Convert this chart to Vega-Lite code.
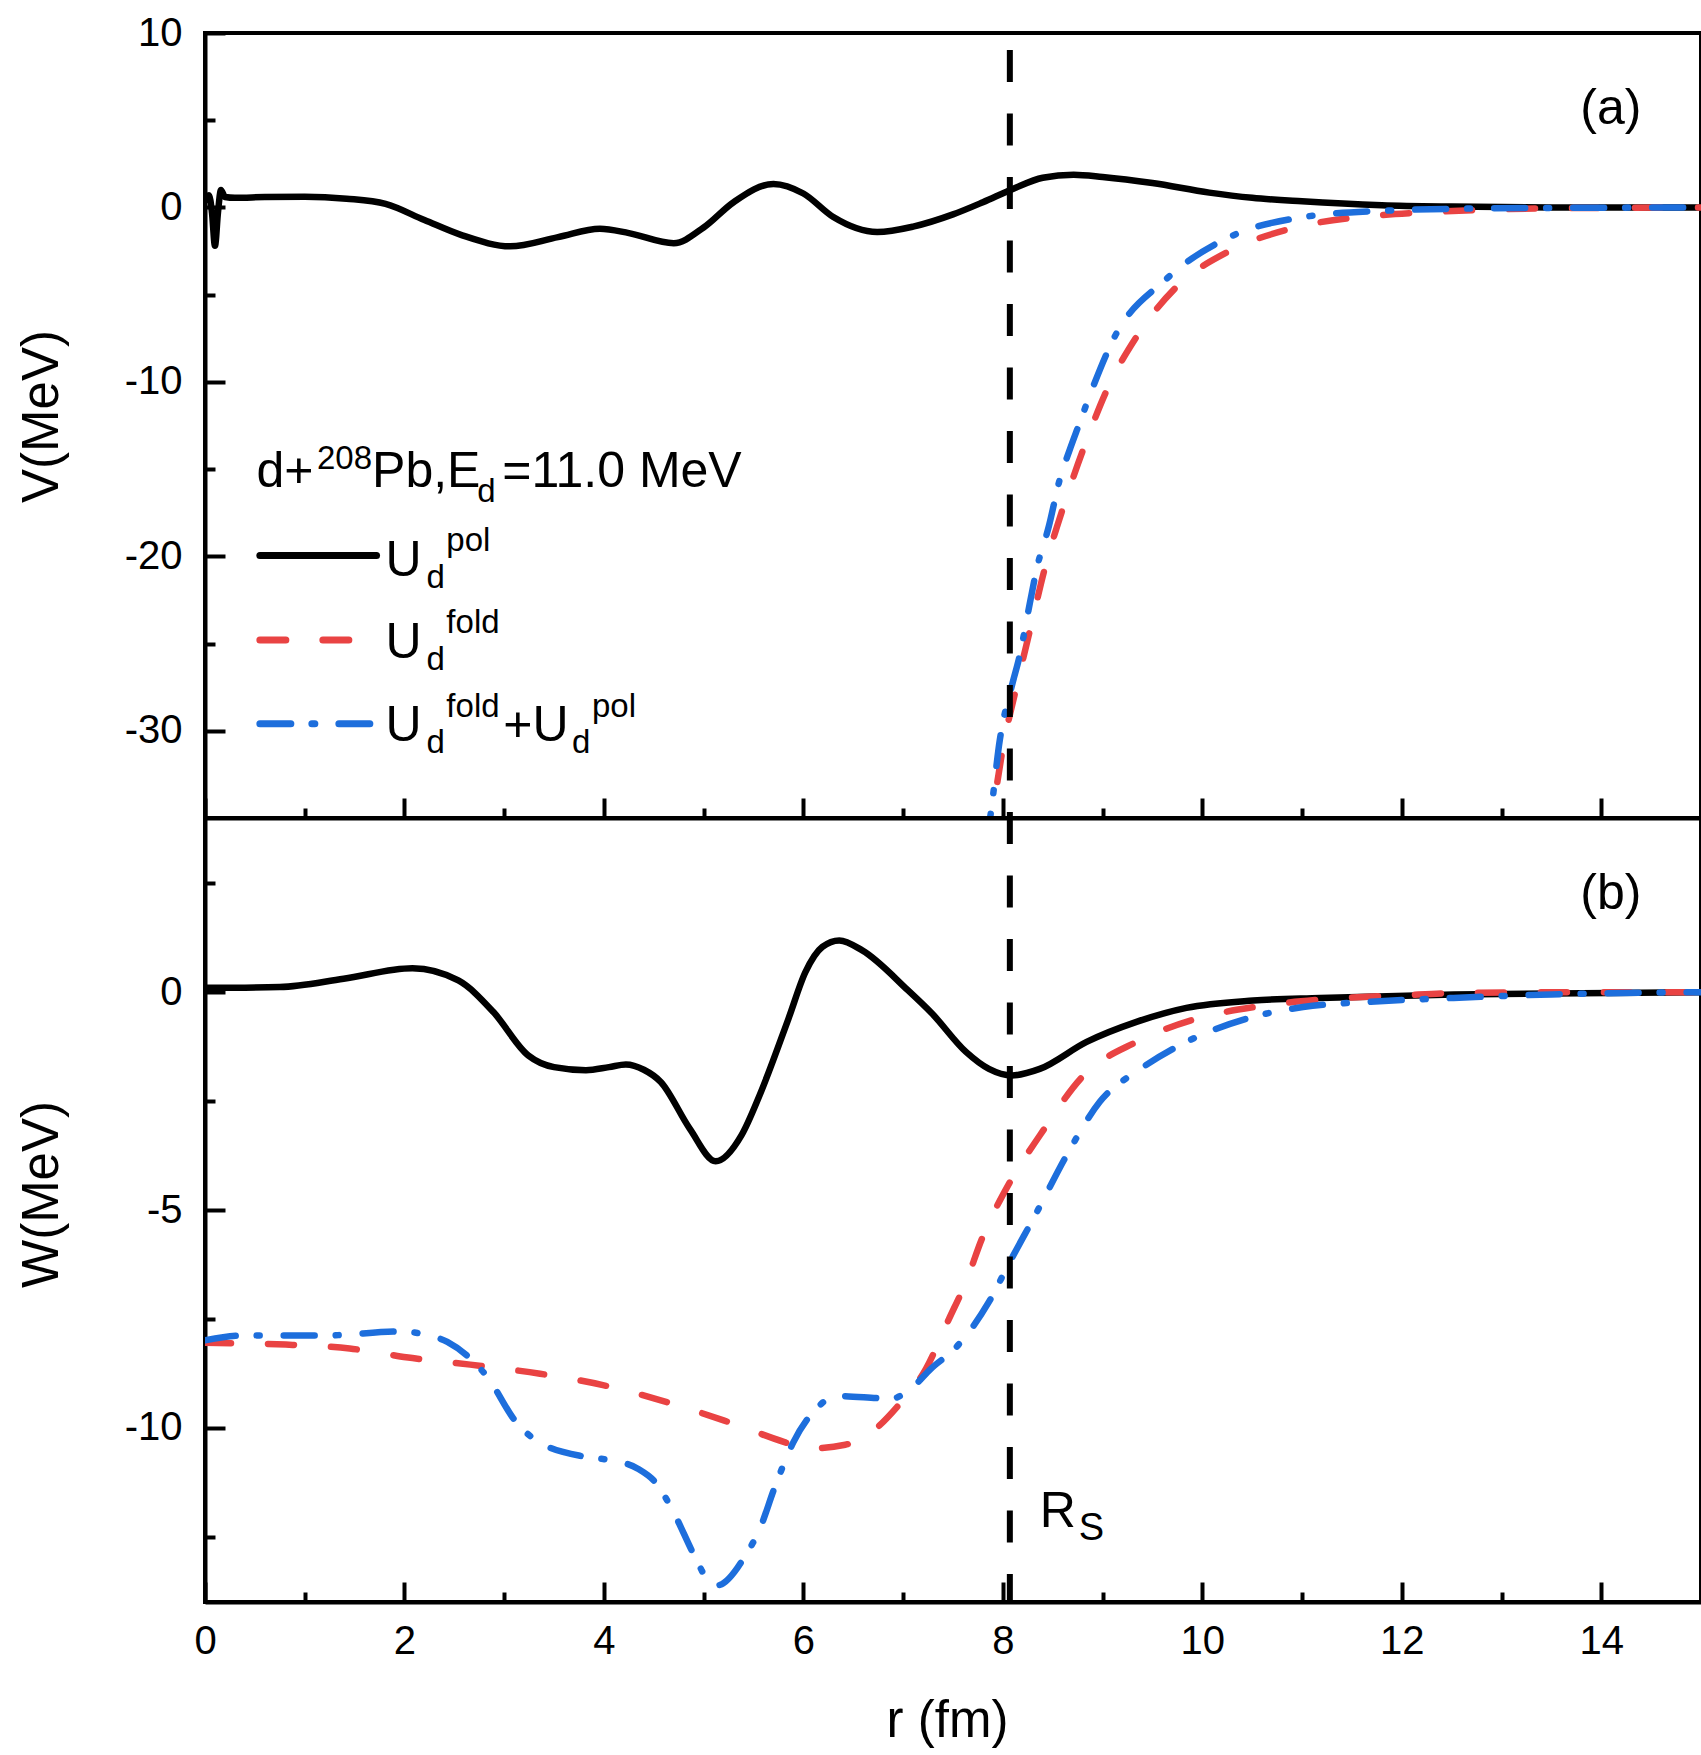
{
  "$schema": "https://vega.github.io/schema/vega-lite/v6.json",
  "description": "Polarization, folding and total potentials for d+208Pb at Ed=11.0 MeV",
  "background": "white",
  "padding": {"left": 14, "top": 11, "right": 0, "bottom": 0},
  "spacing": 0,
  "bounds": "flush",
  "config": {
    "font": "Liberation Sans",
    "view": {"stroke": "black", "strokeWidth": 4},
    "axis": {
      "grid": false,
      "domainColor": "black",
      "domainWidth": 4,
      "tickColor": "black",
      "tickWidth": 4,
      "labelFont": "Liberation Sans",
      "labelFontSize": 40,
      "labelColor": "black",
      "labelOverlap": false,
      "titleFont": "Liberation Sans",
      "titleFontSize": 51,
      "titleFontWeight": "normal",
      "titleColor": "black"
    },
    "text": {"font": "Liberation Sans", "color": "black", "align": "left", "baseline": "alphabetic"}
  },
  "datasets": {
    "V": [
      {"r": 0.0, "v": 0.4, "s": "pol"}, {"r": 0.04, "v": 0.7, "s": "pol"}, {"r": 0.07, "v": -0.3, "s": "pol"},
      {"r": 0.1, "v": -2.2, "s": "pol"}, {"r": 0.13, "v": -0.3, "s": "pol"}, {"r": 0.16, "v": 1.0, "s": "pol"},
      {"r": 0.2, "v": 0.6, "s": "pol"}, {"r": 0.3, "v": 0.55, "s": "pol"}, {"r": 0.6, "v": 0.6, "s": "pol"},
      {"r": 1.0, "v": 0.62, "s": "pol"}, {"r": 1.42, "v": 0.5, "s": "pol"}, {"r": 1.81, "v": 0.2, "s": "pol"},
      {"r": 2.2, "v": -0.72, "s": "pol"}, {"r": 2.58, "v": -1.6, "s": "pol"}, {"r": 3.06, "v": -2.23, "s": "pol"},
      {"r": 3.54, "v": -1.7, "s": "pol"}, {"r": 3.96, "v": -1.22, "s": "pol"}, {"r": 4.25, "v": -1.47, "s": "pol"},
      {"r": 4.7, "v": -2.05, "s": "pol"}, {"r": 5.0, "v": -1.15, "s": "pol"}, {"r": 5.3, "v": 0.3, "s": "pol"},
      {"r": 5.7, "v": 1.35, "s": "pol"}, {"r": 6.0, "v": 0.8, "s": "pol"}, {"r": 6.3, "v": -0.55, "s": "pol"},
      {"r": 6.74, "v": -1.41, "s": "pol"}, {"r": 7.1, "v": -1.1, "s": "pol"}, {"r": 7.5, "v": -0.4, "s": "pol"},
      {"r": 7.8, "v": 0.3, "s": "pol"}, {"r": 8.1, "v": 1.06, "s": "pol"}, {"r": 8.4, "v": 1.7, "s": "pol"},
      {"r": 8.71, "v": 1.88, "s": "pol"}, {"r": 9.0, "v": 1.75, "s": "pol"}, {"r": 9.5, "v": 1.4, "s": "pol"},
      {"r": 10.07, "v": 0.85, "s": "pol"}, {"r": 10.5, "v": 0.55, "s": "pol"}, {"r": 11.0, "v": 0.35, "s": "pol"},
      {"r": 11.8, "v": 0.13, "s": "pol"}, {"r": 12.5, "v": 0.05, "s": "pol"}, {"r": 13.5, "v": 0.0, "s": "pol"},
      {"r": 15.0, "v": 0.0, "s": "pol"},
      {"r": 7.85, "v": -36.5, "s": "fold"}, {"r": 7.89, "v": -35.0, "s": "fold"}, {"r": 8.0, "v": -31.0, "s": "fold"},
      {"r": 8.14, "v": -27.4, "s": "fold"}, {"r": 8.29, "v": -23.8, "s": "fold"}, {"r": 8.42, "v": -20.7, "s": "fold"},
      {"r": 8.61, "v": -17.1, "s": "fold"}, {"r": 8.83, "v": -13.5, "s": "fold"}, {"r": 9.04, "v": -10.5, "s": "fold"},
      {"r": 9.35, "v": -7.33, "s": "fold"}, {"r": 9.74, "v": -4.56, "s": "fold"}, {"r": 10.27, "v": -2.5, "s": "fold"},
      {"r": 10.9, "v": -1.2, "s": "fold"}, {"r": 11.77, "v": -0.45, "s": "fold"}, {"r": 12.35, "v": -0.25, "s": "fold"},
      {"r": 13.5, "v": -0.05, "s": "fold"}, {"r": 15.0, "v": 0.0, "s": "fold"},
      {"r": 7.82, "v": -36.5, "s": "sum"}, {"r": 7.87, "v": -35.05, "s": "sum"}, {"r": 7.97, "v": -30.5, "s": "sum"},
      {"r": 8.1, "v": -27.2, "s": "sum"}, {"r": 8.16, "v": -25.9, "s": "sum"}, {"r": 8.27, "v": -22.7, "s": "sum"},
      {"r": 8.34, "v": -20.7, "s": "sum"}, {"r": 8.46, "v": -18.3, "s": "sum"}, {"r": 8.57, "v": -15.6, "s": "sum"},
      {"r": 8.67, "v": -13.9, "s": "sum"}, {"r": 8.76, "v": -12.5, "s": "sum"}, {"r": 8.91, "v": -10.2, "s": "sum"},
      {"r": 9.11, "v": -7.53, "s": "sum"}, {"r": 9.63, "v": -4.15, "s": "sum"}, {"r": 10.33, "v": -1.55, "s": "sum"},
      {"r": 10.96, "v": -0.6, "s": "sum"}, {"r": 11.77, "v": -0.2, "s": "sum"}, {"r": 12.92, "v": -0.05, "s": "sum"},
      {"r": 15.0, "v": 0.0, "s": "sum"}
    ],
    "W": [
      {"r": 0.0, "v": 0.1, "s": "pol"}, {"r": 0.75, "v": 0.12, "s": "pol"}, {"r": 1.39, "v": 0.31, "s": "pol"},
      {"r": 2.08, "v": 0.55, "s": "pol"}, {"r": 2.54, "v": 0.27, "s": "pol"}, {"r": 2.89, "v": -0.45, "s": "pol"},
      {"r": 3.24, "v": -1.45, "s": "pol"}, {"r": 3.5, "v": -1.72, "s": "pol"}, {"r": 3.82, "v": -1.79, "s": "pol"},
      {"r": 4.05, "v": -1.72, "s": "pol"}, {"r": 4.22, "v": -1.66, "s": "pol"}, {"r": 4.4, "v": -1.78, "s": "pol"},
      {"r": 4.57, "v": -2.06, "s": "pol"}, {"r": 4.86, "v": -3.13, "s": "pol"}, {"r": 5.12, "v": -3.88, "s": "pol"},
      {"r": 5.38, "v": -3.28, "s": "pol"}, {"r": 5.56, "v": -2.37, "s": "pol"}, {"r": 5.85, "v": -0.61, "s": "pol"},
      {"r": 6.02, "v": 0.46, "s": "pol"}, {"r": 6.19, "v": 1.04, "s": "pol"}, {"r": 6.36, "v": 1.19, "s": "pol"},
      {"r": 6.59, "v": 0.96, "s": "pol"}, {"r": 7.05, "v": 0.04, "s": "pol"}, {"r": 7.29, "v": -0.49, "s": "pol"},
      {"r": 7.63, "v": -1.37, "s": "pol"}, {"r": 7.86, "v": -1.76, "s": "pol"}, {"r": 8.09, "v": -1.91, "s": "pol"},
      {"r": 8.37, "v": -1.76, "s": "pol"}, {"r": 8.84, "v": -1.14, "s": "pol"}, {"r": 9.34, "v": -0.68, "s": "pol"},
      {"r": 9.84, "v": -0.36, "s": "pol"}, {"r": 10.51, "v": -0.19, "s": "pol"}, {"r": 11.18, "v": -0.13, "s": "pol"},
      {"r": 12.52, "v": -0.05, "s": "pol"}, {"r": 15.0, "v": 0.0, "s": "pol"},
      {"r": 0.0, "v": -8.05, "s": "fold"}, {"r": 0.81, "v": -8.09, "s": "fold"}, {"r": 1.45, "v": -8.18, "s": "fold"},
      {"r": 2.08, "v": -8.4, "s": "fold"}, {"r": 2.66, "v": -8.55, "s": "fold"}, {"r": 3.36, "v": -8.76, "s": "fold"},
      {"r": 3.99, "v": -9.02, "s": "fold"}, {"r": 4.57, "v": -9.37, "s": "fold"}, {"r": 5.2, "v": -9.83, "s": "fold"},
      {"r": 5.81, "v": -10.33, "s": "fold"}, {"r": 6.01, "v": -10.48, "s": "fold"}, {"r": 6.42, "v": -10.39, "s": "fold"},
      {"r": 6.71, "v": -10.05, "s": "fold"}, {"r": 6.94, "v": -9.52, "s": "fold"}, {"r": 7.23, "v": -8.64, "s": "fold"},
      {"r": 7.46, "v": -7.5, "s": "fold"}, {"r": 7.63, "v": -6.65, "s": "fold"}, {"r": 7.79, "v": -5.66, "s": "fold"},
      {"r": 8.07, "v": -4.36, "s": "fold"}, {"r": 8.37, "v": -3.29, "s": "fold"}, {"r": 8.81, "v": -1.91, "s": "fold"},
      {"r": 9.34, "v": -1.14, "s": "fold"}, {"r": 9.94, "v": -0.61, "s": "fold"}, {"r": 10.58, "v": -0.32, "s": "fold"},
      {"r": 11.18, "v": -0.17, "s": "fold"}, {"r": 12.02, "v": -0.07, "s": "fold"}, {"r": 12.52, "v": -0.02, "s": "fold"},
      {"r": 13.5, "v": 0.0, "s": "fold"}, {"r": 15.0, "v": 0.0, "s": "fold"},
      {"r": 0.0, "v": -7.99, "s": "sum"}, {"r": 0.4, "v": -7.88, "s": "sum"}, {"r": 1.21, "v": -7.88, "s": "sum"},
      {"r": 1.96, "v": -7.79, "s": "sum"}, {"r": 2.17, "v": -7.84, "s": "sum"}, {"r": 2.43, "v": -8.03, "s": "sum"},
      {"r": 2.66, "v": -8.41, "s": "sum"}, {"r": 2.83, "v": -8.83, "s": "sum"}, {"r": 3.12, "v": -9.87, "s": "sum"},
      {"r": 3.32, "v": -10.29, "s": "sum"}, {"r": 3.82, "v": -10.67, "s": "sum"}, {"r": 4.08, "v": -10.75, "s": "sum"},
      {"r": 4.34, "v": -10.94, "s": "sum"}, {"r": 4.54, "v": -11.32, "s": "sum"}, {"r": 4.68, "v": -11.86, "s": "sum"},
      {"r": 4.92, "v": -13.0, "s": "sum"}, {"r": 5.03, "v": -13.46, "s": "sum"}, {"r": 5.13, "v": -13.62, "s": "sum"},
      {"r": 5.44, "v": -12.85, "s": "sum"}, {"r": 5.55, "v": -12.39, "s": "sum"}, {"r": 5.72, "v": -11.32, "s": "sum"},
      {"r": 5.9, "v": -10.33, "s": "sum"}, {"r": 6.13, "v": -9.56, "s": "sum"}, {"r": 6.33, "v": -9.27, "s": "sum"},
      {"r": 6.88, "v": -9.33, "s": "sum"}, {"r": 7.08, "v": -9.1, "s": "sum"}, {"r": 7.28, "v": -8.64, "s": "sum"},
      {"r": 7.52, "v": -8.18, "s": "sum"}, {"r": 7.66, "v": -7.8, "s": "sum"}, {"r": 7.86, "v": -7.11, "s": "sum"},
      {"r": 8.07, "v": -6.19, "s": "sum"}, {"r": 8.34, "v": -5.05, "s": "sum"}, {"r": 8.64, "v": -3.74, "s": "sum"},
      {"r": 8.97, "v": -2.52, "s": "sum"}, {"r": 9.38, "v": -1.76, "s": "sum"}, {"r": 9.84, "v": -1.14, "s": "sum"},
      {"r": 10.44, "v": -0.61, "s": "sum"}, {"r": 11.01, "v": -0.34, "s": "sum"}, {"r": 11.68, "v": -0.22, "s": "sum"},
      {"r": 12.52, "v": -0.13, "s": "sum"}, {"r": 13.5, "v": -0.05, "s": "sum"}, {"r": 15.0, "v": 0.0, "s": "sum"}
    ],
    "key": [
      {"r": 0.55, "v": -19.95, "s": "pol"}, {"r": 1.72, "v": -19.95, "s": "pol"},
      {"r": 0.55, "v": -24.8, "s": "fold"}, {"r": 1.72, "v": -24.8, "s": "fold"},
      {"r": 0.55, "v": -29.6, "s": "sum"}, {"r": 1.72, "v": -29.6, "s": "sum"}
    ],
    "topText": [
      {"r": 0.516, "v": -16.03, "t": "d+"},
      {"r": 1.675, "v": -16.03, "t": "Pb,E"},
      {"r": 2.98, "v": -16.03, "t": "=11.0 MeV"},
      {"r": 1.81, "v": -21.1, "t": "U"},
      {"r": 1.81, "v": -25.8, "t": "U"},
      {"r": 1.81, "v": -30.56, "t": "U"},
      {"r": 2.99, "v": -30.56, "t": "+U"},
      {"r": 13.79, "v": 4.78, "t": "(a)"}
    ],
    "topSmall": [
      {"r": 1.123, "v": -14.98, "t": "208"},
      {"r": 2.73, "v": -16.89, "t": "d"},
      {"r": 2.22, "v": -21.8, "t": "d"},
      {"r": 2.42, "v": -19.7, "t": "pol"},
      {"r": 2.22, "v": -26.5, "t": "d"},
      {"r": 2.42, "v": -24.4, "t": "fold"},
      {"r": 2.22, "v": -31.3, "t": "d"},
      {"r": 2.42, "v": -29.2, "t": "fold"},
      {"r": 3.68, "v": -31.3, "t": "d"},
      {"r": 3.88, "v": -29.2, "t": "pol"}
    ],
    "bottomText": [
      {"r": 13.79, "v": 1.92, "t": "(b)"},
      {"r": 8.37, "v": -12.28, "t": "R"}
    ],
    "bottomSmall": [
      {"r": 8.76, "v": -12.58, "t": "S"}
    ],
    "rs": [{"r": 8.07}]
  },
  "vconcat": [
    {
      "width": 1496,
      "height": 785,
      "layer": [
        {
          "data": {"name": "V"},
          "transform": [{"filter": "datum.s === 'pol'"}],
          "mark": {"type": "line", "color": "black", "strokeWidth": 6.5, "interpolate": "monotone", "clip": true, "strokeJoin": "round", "strokeCap": "round"},
          "encoding": {
            "x": {
              "field": "r", "type": "quantitative",
              "scale": {"domain": [0, 15], "nice": false, "zero": false},
              "axis": {
                "title": null,
                "values": [0, 1, 2, 3, 4, 5, 6, 7, 8, 9, 10, 11, 12, 13, 14, 15],
                "labels": false,
                "tickSize": {"condition": {"test": "datum.value % 2 === 0", "value": -20}, "value": -10}
              }
            },
            "y": {
              "field": "v", "type": "quantitative",
              "scale": {"domain": [-35, 10], "nice": false, "zero": false},
              "axis": {
                "title": "V(MeV)",
                "values": [10, 5, 0, -5, -10, -15, -20, -25, -30],
                "labelExpr": "datum.value % 10 === 0 ? '' + datum.value : ''",
                "labelPadding": 43,
                "tickSize": {"condition": {"test": "datum.value % 10 === 0", "value": -20}, "value": -10},
                "titleX": -148,
                "titleY": 383,
                "titleAngle": 270,
                "titleAlign": "center",
                "titleBaseline": "alphabetic"
              }
            }
          }
        },
        {
          "data": {"name": "V"},
          "transform": [{"filter": "datum.s === 'fold'"}],
          "mark": {"type": "line", "color": "#E94343", "strokeWidth": 6.5, "strokeDash": [26, 37], "strokeCap": "round", "interpolate": "monotone", "clip": true},
          "encoding": {"x": {"field": "r", "type": "quantitative"}, "y": {"field": "v", "type": "quantitative"}}
        },
        {
          "data": {"name": "V"},
          "transform": [{"filter": "datum.s === 'sum'"}],
          "mark": {"type": "line", "color": "#1D6EDC", "strokeWidth": 6.5, "strokeDash": [31, 21, 3, 24], "strokeCap": "round", "interpolate": "monotone", "clip": true},
          "encoding": {"x": {"field": "r", "type": "quantitative"}, "y": {"field": "v", "type": "quantitative"}}
        },
        {
          "data": {"name": "rs"},
          "mark": {"type": "rule", "color": "black", "strokeWidth": 6, "strokeDash": [32, 31.5], "strokeDashOffset": 46.5},
          "encoding": {"x": {"field": "r", "type": "quantitative"}}
        },
        {
          "data": {"name": "key"},
          "transform": [{"filter": "datum.s === 'pol'"}],
          "mark": {"type": "line", "color": "black", "strokeWidth": 7, "strokeCap": "round"},
          "encoding": {"x": {"field": "r", "type": "quantitative"}, "y": {"field": "v", "type": "quantitative"}}
        },
        {
          "data": {"name": "key"},
          "transform": [{"filter": "datum.s === 'fold'"}],
          "mark": {"type": "line", "color": "#E94343", "strokeWidth": 7, "strokeDash": [26, 37], "strokeCap": "round"},
          "encoding": {"x": {"field": "r", "type": "quantitative"}, "y": {"field": "v", "type": "quantitative"}}
        },
        {
          "data": {"name": "key"},
          "transform": [{"filter": "datum.s === 'sum'"}],
          "mark": {"type": "line", "color": "#1D6EDC", "strokeWidth": 7, "strokeDash": [31, 21, 3, 24], "strokeCap": "round"},
          "encoding": {"x": {"field": "r", "type": "quantitative"}, "y": {"field": "v", "type": "quantitative"}}
        },
        {
          "data": {"name": "topText"},
          "mark": {"type": "text", "fontSize": 50},
          "encoding": {"x": {"field": "r", "type": "quantitative"}, "y": {"field": "v", "type": "quantitative"}, "text": {"field": "t"}}
        },
        {
          "data": {"name": "topSmall"},
          "mark": {"type": "text", "fontSize": 33},
          "encoding": {"x": {"field": "r", "type": "quantitative"}, "y": {"field": "v", "type": "quantitative"}, "text": {"field": "t"}}
        }
      ]
    },
    {
      "width": 1496,
      "height": 784,
      "layer": [
        {
          "data": {"name": "W"},
          "transform": [{"filter": "datum.s === 'pol'"}],
          "mark": {"type": "line", "color": "black", "strokeWidth": 6.5, "interpolate": "monotone", "clip": true, "strokeJoin": "round", "strokeCap": "round"},
          "encoding": {
            "x": {
              "field": "r", "type": "quantitative",
              "scale": {"domain": [0, 15], "nice": false, "zero": false},
              "axis": {
                "title": "r (fm)",
                "values": [0, 1, 2, 3, 4, 5, 6, 7, 8, 9, 10, 11, 12, 13, 14, 15],
                "labelExpr": "datum.value % 2 === 0 ? '' + datum.value : ''",
                "labelFlush": false,
                "labelPadding": 39.5,
                "tickSize": {"condition": {"test": "datum.value % 2 === 0", "value": -20}, "value": -10},
                "titleX": 742,
                "titleY": 134.5,
                "titleBaseline": "alphabetic"
              }
            },
            "y": {
              "field": "v", "type": "quantitative",
              "scale": {"domain": [-14, 4], "nice": false, "zero": false},
              "axis": {
                "title": "W(MeV)",
                "values": [2.5, 0, -2.5, -5, -7.5, -10, -12.5],
                "labelExpr": "datum.value % 5 === 0 ? '' + datum.value : ''",
                "labelPadding": 43,
                "tickSize": {"condition": {"test": "datum.value % 5 === 0", "value": -20}, "value": -10},
                "titleX": -148,
                "titleY": 376,
                "titleAngle": 270,
                "titleAlign": "center",
                "titleBaseline": "alphabetic"
              }
            }
          }
        },
        {
          "data": {"name": "W"},
          "transform": [{"filter": "datum.s === 'fold'"}],
          "mark": {"type": "line", "color": "#E94343", "strokeWidth": 6.5, "strokeDash": [26, 37], "strokeCap": "round", "interpolate": "monotone", "clip": true},
          "encoding": {"x": {"field": "r", "type": "quantitative"}, "y": {"field": "v", "type": "quantitative"}}
        },
        {
          "data": {"name": "W"},
          "transform": [{"filter": "datum.s === 'sum'"}],
          "mark": {"type": "line", "color": "#1D6EDC", "strokeWidth": 6.5, "strokeDash": [31, 21, 3, 24], "strokeCap": "round", "interpolate": "monotone", "clip": true},
          "encoding": {"x": {"field": "r", "type": "quantitative"}, "y": {"field": "v", "type": "quantitative"}}
        },
        {
          "data": {"name": "rs"},
          "mark": {"type": "rule", "color": "black", "strokeWidth": 6, "strokeDash": [32, 31.5], "strokeDashOffset": 6},
          "encoding": {"x": {"field": "r", "type": "quantitative"}}
        },
        {
          "data": {"name": "bottomText"},
          "mark": {"type": "text", "fontSize": 50},
          "encoding": {"x": {"field": "r", "type": "quantitative"}, "y": {"field": "v", "type": "quantitative"}, "text": {"field": "t"}}
        },
        {
          "data": {"name": "bottomSmall"},
          "mark": {"type": "text", "fontSize": 38},
          "encoding": {"x": {"field": "r", "type": "quantitative"}, "y": {"field": "v", "type": "quantitative"}, "text": {"field": "t"}}
        }
      ]
    }
  ]
}
